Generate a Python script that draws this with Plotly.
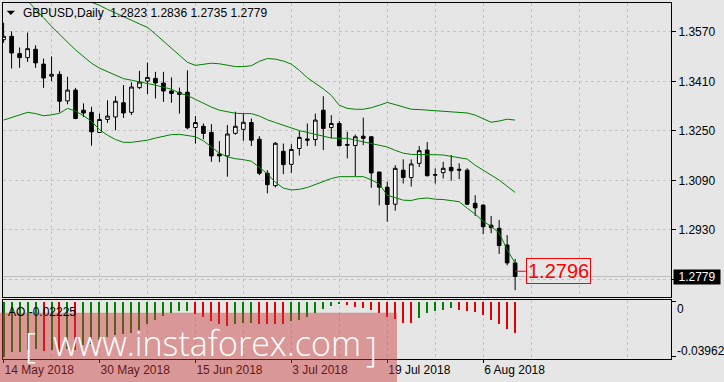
import plotly.graph_objects as go
import pandas as pd

# ---------------- data ----------------
dates = pd.bdate_range("2018-05-14", "2018-08-10")
idx = list(range(len(dates)))

opens = [1.3545, 1.3556, 1.3500, 1.3487, 1.3514,
         1.3466, 1.3427, 1.3433, 1.3347, 1.3382,
         1.3317, 1.3310, 1.3245, 1.3287, 1.3295,
         1.3341, 1.3310, 1.3390, 1.3411, 1.3420,
         1.3405, 1.3379, 1.3375, 1.3375, 1.3261,
         1.3265, 1.3245, 1.3175, 1.3169, 1.3242,
         1.3255, 1.3277, 1.3223, 1.3113, 1.3073,
         1.3184, 1.3142, 1.3193, 1.3224, 1.3222,
         1.3317, 1.3261, 1.3274, 1.3206, 1.3203,
         1.3233, 1.3231, 1.3117, 1.3068, 1.3013,
         1.3123, 1.3099, 1.3145, 1.3188, 1.3109,
         1.3115, 1.3132, 1.3126, 1.3123, 1.3016,
         1.3010, 1.2945, 1.2935, 1.2881, 1.2823]
highs = [1.3600, 1.3572, 1.3520, 1.3568, 1.3527,
         1.3484, 1.3491, 1.3443, 1.3425, 1.3389,
         1.3339, 1.3328, 1.3306, 1.3349, 1.3362,
         1.3398, 1.3407, 1.3444, 1.3471, 1.3441,
         1.3441, 1.3423, 1.3390, 1.3446, 1.3298,
         1.3274, 1.3272, 1.3217, 1.3269, 1.3312,
         1.3306, 1.3290, 1.3233, 1.3123, 1.3214,
         1.3209, 1.3207, 1.3250, 1.3274, 1.3306,
         1.3362, 1.3301, 1.3282, 1.3247, 1.3238,
         1.3293, 1.3233, 1.3118, 1.3086, 1.3139,
         1.3158, 1.3158, 1.3201, 1.3214, 1.3129,
         1.3150, 1.3172, 1.3145, 1.3129, 1.3042,
         1.3012, 1.2975, 1.2962, 1.2913, 1.2836]
lows = [1.3535, 1.3452, 1.3454, 1.3473, 1.3454,
        1.3389, 1.3411, 1.3310, 1.3336, 1.3288,
        1.3295, 1.3202, 1.3244, 1.3276, 1.3252,
        1.3292, 1.3301, 1.3385, 1.3369, 1.3355,
        1.3344, 1.3341, 1.3306, 1.3255, 1.3209,
        1.3223, 1.3150, 1.3149, 1.3102, 1.3238,
        1.3218, 1.3201, 1.3107, 1.3048, 1.3067,
        1.3110, 1.3114, 1.3170, 1.3201, 1.3201,
        1.3188, 1.3226, 1.3201, 1.3161, 1.3104,
        1.3204, 1.3066, 1.3009, 1.2956, 1.2992,
        1.3080, 1.3070, 1.3133, 1.3103, 1.3080,
        1.3096, 1.3089, 1.3094, 1.3010, 1.2975,
        1.2916, 1.2919, 1.2852, 1.2815, 1.2735]
closes = [1.3556, 1.3502, 1.3487, 1.3516, 1.3470,
          1.3421, 1.3433, 1.3346, 1.3382, 1.3290,
          1.3308, 1.3247, 1.3287, 1.3298, 1.3346,
          1.3308, 1.3392, 1.3408, 1.3423, 1.3405,
          1.3379, 1.3371, 1.3368, 1.3260, 1.3277,
          1.3242, 1.3169, 1.3169, 1.3240, 1.3265,
          1.3278, 1.3220, 1.3113, 1.3076, 1.3210,
          1.3141, 1.3190, 1.3229, 1.3220, 1.3285,
          1.3258, 1.3274, 1.3202, 1.3204, 1.3231,
          1.3226, 1.3114, 1.3068, 1.3012, 1.3129,
          1.3099, 1.3143, 1.3186, 1.3105, 1.3107,
          1.3129, 1.3121, 1.3123, 1.3013, 1.3001,
          1.2940, 1.2937, 1.2879, 1.2823, 1.2779]

bb_upper = [1.3802, 1.3789, 1.3776, 1.3763, 1.3750,
            1.3737, 1.3724, 1.3711, 1.3698, 1.3685,
            1.3676, 1.3666, 1.3656, 1.3643, 1.3632,
            1.3621, 1.3608, 1.3596, 1.3585, 1.3563,
            1.3540, 1.3517, 1.3495, 1.3472, 1.3462,
            1.3466, 1.3469, 1.3467, 1.3462, 1.3458,
            1.3458, 1.3461, 1.3475, 1.3484, 1.3482,
            1.3476, 1.3466, 1.3446, 1.3422, 1.3404,
            1.3386, 1.3365, 1.3333, 1.3323, 1.3320,
            1.3320, 1.3325, 1.3333, 1.3342, 1.3335,
            1.3328, 1.3320, 1.3319, 1.3317, 1.3316,
            1.3314, 1.3312, 1.3311, 1.3308, 1.3301,
            1.3290, 1.3278, 1.3282, 1.3288, 1.3285]
bb_middle = [1.3753, 1.3727, 1.3698, 1.3671, 1.3645,
             1.3616, 1.3588, 1.3561, 1.3537, 1.3512,
             1.3490, 1.3469, 1.3453, 1.3441, 1.3430,
             1.3419, 1.3414, 1.3409, 1.3404, 1.3398,
             1.3391, 1.3385, 1.3372, 1.3365, 1.3352,
             1.3339, 1.3327, 1.3317, 1.3312, 1.3307,
             1.3306, 1.3306, 1.3298, 1.3286, 1.3277,
             1.3268, 1.3259, 1.3251, 1.3245, 1.3239,
             1.3233, 1.3227, 1.3226, 1.3226, 1.3220,
             1.3214, 1.3209, 1.3204, 1.3198, 1.3187,
             1.3178, 1.3174, 1.3174, 1.3175, 1.3173,
             1.3172, 1.3168, 1.3165, 1.3159, 1.3139,
             1.3123, 1.3109, 1.3091, 1.3071, 1.3051]
bb_lower = [1.3285, 1.3293, 1.3302, 1.3310, 1.3306,
            1.3299, 1.3302, 1.3307, 1.3323, 1.3314,
            1.3299, 1.3281, 1.3254, 1.3236, 1.3222,
            1.3213, 1.3213, 1.3216, 1.3220, 1.3227,
            1.3233, 1.3238, 1.3239, 1.3236, 1.3231,
            1.3218, 1.3197, 1.3178, 1.3166, 1.3160,
            1.3157, 1.3152, 1.3132, 1.3111, 1.3084,
            1.3065, 1.3059, 1.3061, 1.3067, 1.3077,
            1.3087, 1.3096, 1.3102, 1.3102, 1.3102,
            1.3102, 1.3092, 1.3078, 1.3042, 1.3033,
            1.3026, 1.3025, 1.3031, 1.3033, 1.3029,
            1.3028, 1.3025, 1.3021, 1.3000, 1.2981,
            1.2958, 1.2941, 1.2920, 1.2866, 1.2822]

ao_values = [-0.0396, -0.0365, -0.0362, -0.0350, -0.0338,
             -0.0357, -0.0350, -0.0362, -0.0340, -0.0350,
             -0.0315, -0.0305, -0.0278, -0.0254, -0.0242,
             -0.0236, -0.0228, -0.0206, -0.0164, -0.0131,
             -0.0100, -0.0083, -0.0069, -0.0068, -0.0088,
             -0.0107, -0.0140, -0.0159, -0.0176, -0.0159,
             -0.0152, -0.0150, -0.0158, -0.0159, -0.0160,
             -0.0161, -0.0140, -0.0135, -0.0112, -0.0083,
             -0.0052, -0.0033, -0.0017, -0.0022, -0.0036,
             -0.0045, -0.0057, -0.0083, -0.0112, -0.0128,
             -0.0150, -0.0151, -0.0119, -0.0083, -0.0069,
             -0.0059, -0.0045, -0.0057, -0.0064, -0.0076,
             -0.0099, -0.0135, -0.0164, -0.0199, -0.02225]

price_ticks = [1.3570, 1.3410, 1.3250, 1.3090, 1.2930, 1.2770]
price_tick_text = ["1.3570", "1.3410", "1.3250", "1.3090", "1.2930", ""]
date_label_pos = [0, 12, 24, 36, 48, 60]
date_labels = ["14 May 2018", "30 May 2018", "15 Jun 2018", "3 Jul 2018", "19 Jul 2018", "6 Aug 2018"]
ao_ticks = [0.0, -0.03962]
ao_tick_text = ["0", "-0.03962"]
header_text = "GBPUSD,Daily  1.2823 1.2836 1.2735 1.2779"
ao_text = "AO -0.02225"
last_price = 1.2779
last_price_text = "1.2779"
marked_price = 1.2796
marked_price_text = "1.2796"
watermark = "www.instaforex.com"

# ---------------- layout geometry ----------------
W, H = 724, 382
ML, MR, MT, MB = 3, 53, 3, 23
PW, PH = W - ML - MR, H - MT - MB


def px_x(px):
    return (px - ML) / PW


def px_y(py):
    return (H - MB - py) / PH


XR = [-0.075, 83.5]
YR = [1.27118, 1.36637]
AOR = [-0.04128, 0.00122]
BG = "#E6E6E6"
GRID = "#C4C4C4"
FONT = "Liberation Sans"

ao_colors = ["#008000"] + [
    "#008000" if ao_values[i] > ao_values[i - 1] else "#E00000" for i in range(1, len(ao_values))
]

fig = go.Figure()
fig.add_trace(go.Candlestick(
    x=idx, open=opens, high=highs, low=lows, close=closes,
    xaxis="x", yaxis="y",
    increasing=dict(line=dict(color="black", width=1), fillcolor="white"),
    decreasing=dict(line=dict(color="black", width=1), fillcolor="black"),
    whiskerwidth=0, showlegend=False, hoverinfo="skip",
))
for band in (bb_upper, bb_middle, bb_lower):
    fig.add_trace(go.Scatter(x=idx, y=band, mode="lines", xaxis="x", yaxis="y",
                             line=dict(color="#008000", width=1), showlegend=False,
                             hoverinfo="skip"))
fig.add_trace(go.Bar(x=idx, y=ao_values, xaxis="x2", yaxis="y2", width=0.14,
                     marker=dict(color=ao_colors, line=dict(width=0)),
                     showlegend=False, hoverinfo="skip"))

grid_vals = list(range(0, 84, 6))
minor_vals = [v for v in grid_vals if v % 12 != 0]

fig.update_layout(
    width=W, height=H,
    margin=dict(l=ML, r=MR, t=MT, b=MB, pad=0),
    paper_bgcolor=BG, plot_bgcolor=BG,
    font=dict(family=FONT, size=12, color="black"),
    boxgap=0.35,
    showlegend=False,
    bargap=0,
    xaxis=dict(domain=[0, 1], anchor="y", range=XR, tickvals=grid_vals,
               showticklabels=False, ticks="", showgrid=True, gridcolor=GRID,
               griddash="3px,3px", gridwidth=1, showline=True, mirror=True,
               linecolor="black", linewidth=1, zeroline=False,
               rangeslider=dict(visible=False), fixedrange=True),
    yaxis=dict(domain=[px_y(297.3), 1], anchor="x", range=YR, side="right",
               tickvals=price_ticks, ticktext=price_tick_text, ticks="outside",
               ticklen=4, tickcolor="black", showgrid=True, gridcolor=GRID,
               griddash="3px,3px", showline=True, mirror=True, linecolor="black",
               linewidth=1, zeroline=False, tickfont=dict(size=12, color="black")),
    xaxis2=dict(domain=[0, 1], anchor="y2", matches="x", range=XR,
                tickvals=date_label_pos, ticktext=date_labels, ticks="outside",
                ticklen=3, tickcolor="black", ticklabelposition="outside right",
                showgrid=True, gridcolor=GRID, griddash="3px,3px",
                minor=dict(tickvals=minor_vals, showgrid=True, gridcolor=GRID,
                           griddash="3px,3px", ticks=""),
                showline=True, mirror=True, linecolor="black", linewidth=1,
                zeroline=False, tickfont=dict(size=12, color="black")),
    yaxis2=dict(domain=[0, px_y(300)], anchor="x2", range=AOR, side="right",
                tickvals=ao_ticks, showticklabels=False, ticks="outside", ticklen=4,
                tickcolor="black", showgrid=False, showline=True, mirror=True,
                linecolor="black", linewidth=1, zeroline=False),
)

shapes = [
    dict(type="line", xref="x", yref="y", x0=XR[0], x1=XR[1], y0=last_price, y1=last_price,
         line=dict(color="#BEBEBE", width=1), layer="between"),
    dict(type="line", xref="x", yref="y", x0=idx[-1], x1=idx[-1] + 1.34, y0=marked_price,
         y1=marked_price, line=dict(color="red", width=1)),
    dict(type="path", xref="paper", yref="paper",
         path="M {} {} L {} {} L {} {} Z".format(px_x(6.7), px_y(10.7), px_x(15), px_y(10.7),
                                                 px_x(10.85), px_y(15)),
         fillcolor="black", line=dict(width=0)),
    dict(type="rect", xref="paper", yref="paper", x0=px_x(0), x1=px_x(397),
         y0=px_y(382), y1=px_y(312.7), fillcolor="rgba(205,55,55,0.45)",
         line=dict(width=0), layer="above"),
]

annotations = [
    dict(xref="paper", yref="paper", x=px_x(20.5), y=px_y(12.7), text=header_text,
         showarrow=False, xanchor="left", yanchor="middle",
         font=dict(family=FONT, size=12, color="black")),
    dict(xref="paper", yref="paper", x=px_x(6), y=px_y(311.5), text=ao_text,
         showarrow=False, xanchor="left", yanchor="middle",
         font=dict(family=FONT, size=12, color="black")),
    dict(xref="x", yref="y", x=idx[-1] + 1.34, y=marked_price, text=marked_price_text,
         showarrow=False, xanchor="left", yanchor="middle",
         font=dict(family=FONT, size=20, color="red"), bordercolor="red", borderwidth=1,
         borderpad=1),
    dict(xref="paper", yref="y", x=px_x(672.5), y=last_price, text=last_price_text,
         showarrow=False, xanchor="left", yanchor="middle", bgcolor="black",
         width=46, align="center",
         font=dict(family=FONT, size=12, color="white"), borderpad=0),
    dict(xref="paper", yref="paper", x=px_x(675), y=px_y(309.3), text=ao_tick_text[0],
         showarrow=False, xanchor="left", yanchor="middle",
         font=dict(family=FONT, size=12, color="black")),
    dict(xref="paper", yref="paper", x=px_x(675), y=px_y(350.7), text=ao_tick_text[1],
         showarrow=False, xanchor="left", yanchor="middle",
         font=dict(family=FONT, size=12, color="black")),
    dict(xref="paper", yref="paper", x=px_x(30), y=px_y(345), text="[",
         showarrow=False, xanchor="center", yanchor="middle",
         font=dict(family="Open Sans", size=34, color="white", weight=300)),
    dict(xref="paper", yref="paper", x=px_x(207), y=px_y(343), text=watermark,
         showarrow=False, xanchor="center", yanchor="middle",
         font=dict(family="Open Sans", size=34, color="white", weight=300)),
    dict(xref="paper", yref="paper", x=px_x(371), y=px_y(349), text="]",
         showarrow=False, xanchor="center", yanchor="middle",
         font=dict(family="Open Sans", size=34, color="white", weight=300)),
]

fig.update_layout(shapes=shapes, annotations=annotations)
fig.write_html("out.html")
